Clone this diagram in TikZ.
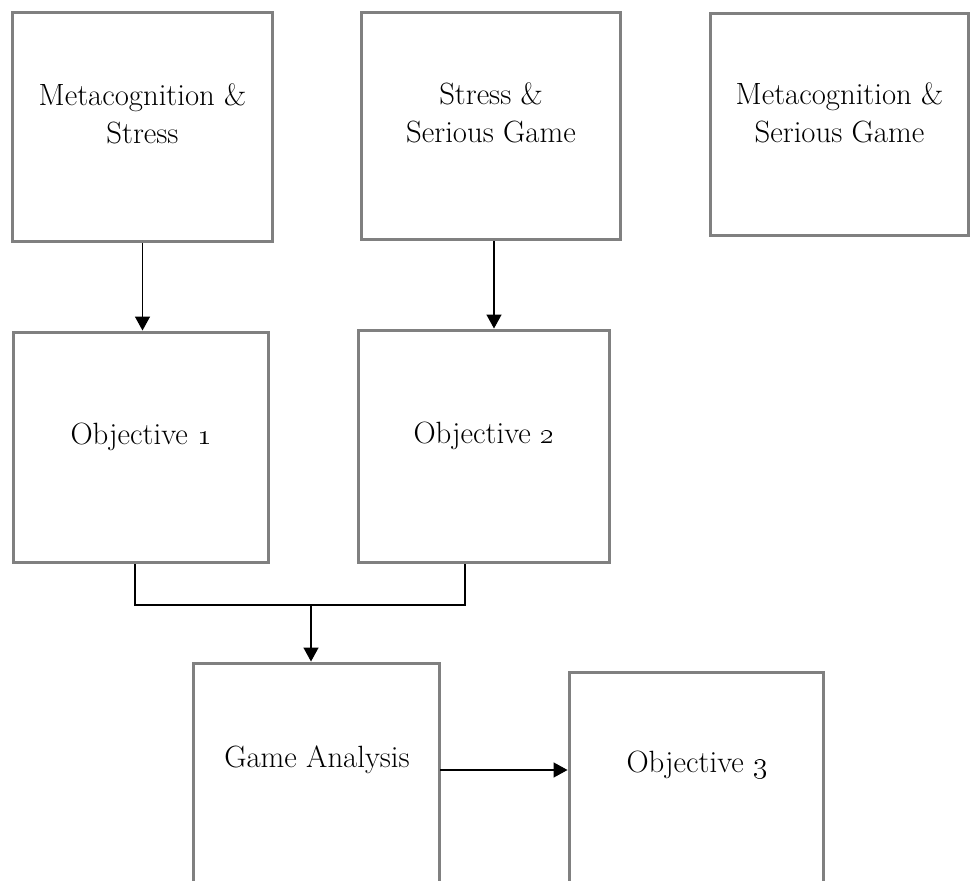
\documentclass[tikz,border=0pt]{standalone}
\usepackage{tikz}
\usetikzlibrary{arrows.meta,calc}
\definecolor{boxgray}{RGB}{128,128,128}
\tikzset{
         box/.style=
          {
           draw=boxgray,
           line width=1.7pt,
           rectangle,
           inner sep=0pt
          },
         lbl/.style=
          {
           align=center,
           inner sep=0pt,
           font=\fontsize{17.5}{21.5}\selectfont
          },
         arr/.style=
          {
           line width=0.8pt,
           -{Triangle[length=0.28cm,width=0.3cm]}
          }
        }

\begin{document}
\begin{tikzpicture}[x=0.02cm,y=-0.02cm]
\useasboundingbox (0,0) rectangle (971,881);
\clip (0,0) rectangle (971,881);
\node[box,minimum width=5.22cm,minimum height=4.6cm] (ms) at (142.5,127) {}; % box 1
\node[lbl] (mstext) at (142.5,114) {Metacognition \&\\Stress}; % box 1 label
\node[box,minimum width=5.2cm,minimum height=4.56cm] (ssg) at (491,126) {}; % box 2
\node[lbl] (ssgtext) at (491,113) {Stress \&\\Serious Game}; % box 2 label
\node[box,minimum width=5.18cm,minimum height=4.46cm] (msg) at (839.5,124.5) {}; % box 3
\node[lbl] (msgtext) at (839.5,113) {Metacognition \&\\Serious Game}; % box 3 label
\node[box,minimum width=5.12cm,minimum height=4.62cm] (obj1) at (141,447.5) {}; % objective 1
\node[lbl] (obj1text) at (141,437) {Objective \oldstylenums{1}}; % objective 1 label
\node[box,minimum width=5.04cm,minimum height=4.66cm] (obj2) at (484,446.5) {}; % objective 2
\node[lbl] (obj2text) at (484,436) {Objective \oldstylenums{2}}; % objective 2 label
\node[box,minimum width=4.94cm,minimum height=5.14cm] (ga) at (316.5,791.5) {}; % game analysis
\node[lbl] (gatext) at (317,760) {Game Analysis}; % game analysis label
\node[box,minimum width=5.1cm,minimum height=4.96cm] (obj3) at (696.5,796) {}; % objective 3
\node[lbl] (obj3text) at (697,765) {Objective \oldstylenums{3}}; % objective 3 label
\coordinate (s2) at (494,240); % box 2 outlet
\coordinate (jl) at (135,605); % bracket left
\coordinate (jr) at (465,605); % bracket right
\coordinate (jm) at (311,605); % bracket outlet
\coordinate (gout) at (440,770); % game analysis outlet
\draw[arr](ms.south)--(ms.south |- obj1.north); % Wiring
\draw[arr](s2 |- ssg.south)--(s2 |- obj2.north); % Wiring
\draw[line width=0.8pt](jl |- obj1.south)--(jl)--(jr)--(jr |- obj2.south); % Bracket
\draw[arr](jm)--(jm |- ga.north); % Wiring
\draw[arr](gout)--(gout -| obj3.west); % Wiring
\end{tikzpicture}
\end{document}
